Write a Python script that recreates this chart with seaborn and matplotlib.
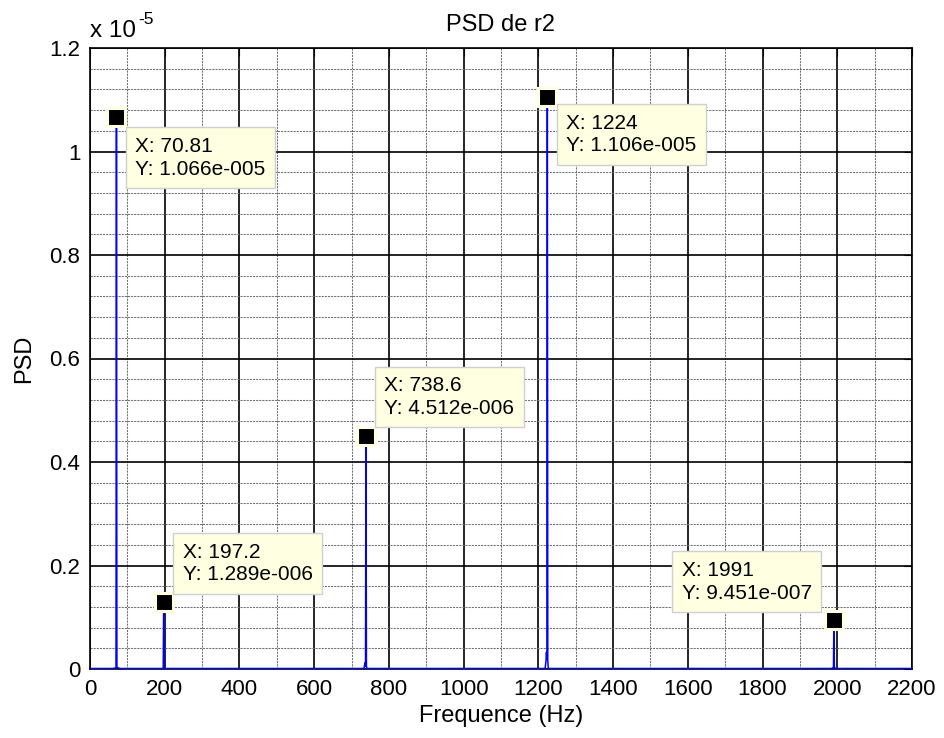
import pandas as pd
import seaborn as sns
import matplotlib.pyplot as plt
from matplotlib.ticker import MultipleLocator, FuncFormatter

# spectrum (Hz, PSD)
freq = [0, 60, 69.6, 70.81, 72.0, 80, 190, 196.0, 197.2, 198.4, 205,
        725, 733, 736.2, 737.4, 738.6, 739.8, 741, 750,
        1210, 1218, 1220.4, 1221.6, 1222.8, 1224, 1225.2, 1226.4, 1235,
        1985, 1989.8, 1991, 1992.2, 2000, 2200]
psd = [1e-8, 1e-8, 2e-8, 1.066e-5, 3e-8, 1e-8, 1e-8, 1e-8, 1.289e-6, 1e-8, 1e-8,
       1e-8, 1e-8, 1.2e-7, 5e-8, 4.512e-6, 6e-8, 1e-8, 1e-8,
       1e-8, 1e-8, 1.5e-7, 3.2e-7, 2e-7, 1.106e-5, 1.8e-7, 1e-8, 1e-8,
       1e-8, 3e-8, 9.451e-7, 2e-8, 1e-8, 1e-8]

# data tips
peak_freq = [70.81, 197.2, 738.6, 1224, 1991]
peak_psd = [1.066e-5, 1.289e-6, 4.512e-6, 1.106e-5, 9.451e-7]
peak_xlabel = ['70.81', '197.2', '738.6', '1224', '1991']
peak_ylabel = ['1.066e-005', '1.289e-006', '4.512e-006', '1.106e-005', '9.451e-007']

xticks = list(range(0, 2201, 200))
yticks = [0, 0.2e-5, 0.4e-5, 0.6e-5, 0.8e-5, 1.0e-5, 1.2e-5]

sns.set_style('white')
plt.rcParams['font.family'] = ['Liberation Sans', 'DejaVu Sans']
plt.rcParams['text.color'] = 'black'
plt.rcParams['axes.labelcolor'] = 'black'

fig = plt.figure(figsize=(9.45, 7.38), dpi=100)
ax = fig.add_axes([90 / 945, 69 / 738, 822 / 945, 621 / 738])

df = pd.DataFrame({'freq': freq, 'psd': psd})
sns.lineplot(data=df, x='freq', y='psd', color='#0000FF', linewidth=1.1,
             estimator=None, sort=False, ax=ax, zorder=3)

ax.set_xlim(0, 2200)
ax.set_ylim(0, 1.2e-5)
ax.set_xticks(xticks)
ax.set_yticks(yticks)
ax.xaxis.set_minor_locator(MultipleLocator(100))
ax.yaxis.set_minor_locator(MultipleLocator(0.04e-5))
ax.yaxis.set_major_formatter(FuncFormatter(lambda v, p: f'{v * 1e5:.1f}'.rstrip('0').rstrip('.')))

ax.grid(which='major', color='black', linewidth=1.2, linestyle='-')
ax.grid(which='minor', color='#707070', linewidth=0.75, linestyle=(0, (2, 1)))
ax.set_axisbelow(True)
for s in ax.spines.values():
    s.set_color('black')
    s.set_linewidth(1.2)
ax.tick_params(which='major', direction='in', length=6, top=True, right=True,
               labelsize=16, pad=7, colors='black')
ax.tick_params(which='minor', direction='in', length=0)

ax.set_xlabel('Frequence (Hz)', fontsize=17, labelpad=4, color='black')
ax.set_ylabel('PSD', fontsize=17, labelpad=10, color='black')
ax.set_title('PSD de r2', fontsize=17, pad=12, color='black')

# exponent label
fig.text(90 / 945, 1 - 37 / 738, 'x 10', fontsize=17.5, ha='left', va='baseline')
fig.text(138 / 945, 1 - 24 / 738, '-5', fontsize=12.5, ha='left', va='baseline')

# data tip markers
ax.plot(peak_freq, peak_psd, linestyle='none', marker='s', markersize=13.4,
        markerfacecolor='black', markeredgecolor='#FFFFE1', markeredgewidth=2.2,
        zorder=5)

offsets = [(19, -19.5, 'left', 'top'), (19, 18, 'left', 'bottom'),
           (18.5, 17.5, 'left', 'bottom'), (19, -17, 'left', 'top'),
           (-22, 17.5, 'right', 'bottom')]
for fx, fy, lx, ly, (dx, dy, ha, va) in zip(peak_freq, peak_psd, peak_xlabel,
                                           peak_ylabel, offsets):
    ax.annotate(f'X: {lx}\nY: {ly}', xy=(fx, fy), xytext=(dx, dy),
                textcoords='offset pixels', ha=ha, va=va, multialignment='left',
                fontsize=15, linespacing=1.25, zorder=6, color='black',
                bbox=dict(boxstyle='square,pad=0.45', fc='#FFFFE1', ec='#CFCFCF', lw=1))

fig.savefig('out.png', dpi=100)
